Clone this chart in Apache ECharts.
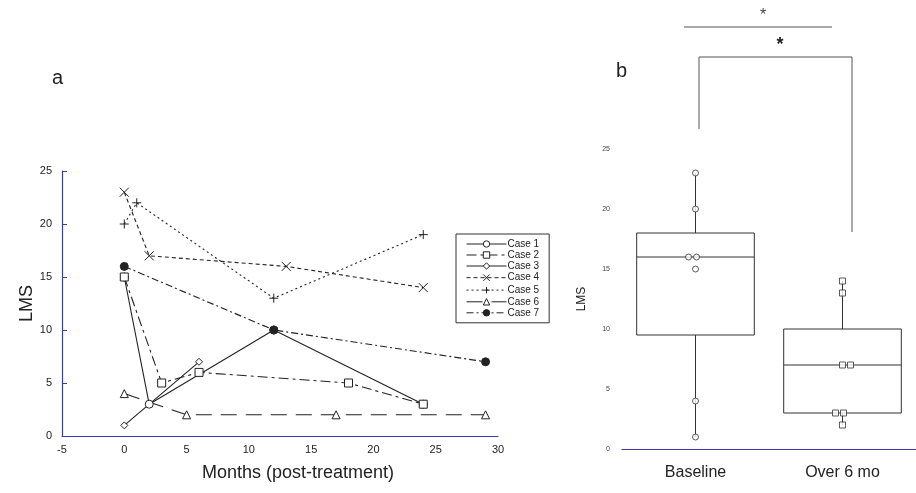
<!DOCTYPE html>
<html>
<head>
<meta charset="utf-8">
<script src="https://cdn.jsdelivr.net/npm/echarts@6/dist/echarts.min.js"></script>
<style>
  html, body { margin: 0; padding: 0; background: #fff; }
  #chart { width: 916px; height: 493px; }
</style>
</head>
<body>
<div id="chart"></div>
<script>
// panel a: LMS over time per case, [month, LMS]
const case1 = [[0, 15], [2, 3], [12, 10], [24, 3]];
const case2 = [[0, 15], [3, 5], [6, 6], [18, 5], [24, 3]];
const case3 = [[0, 1], [6, 7]];
const case4 = [[0, 23], [2, 17], [13, 16], [24, 14]];
const case5 = [[0, 20], [1, 22], [12, 13], [24, 19]];
const case6 = [[0, 4], [5, 2], [17, 2], [29, 2]];
const case7 = [[0, 16], [12, 10], [29, 7]];
const caseNames = ["Case 1", "Case 2", "Case 3", "Case 4", "Case 5", "Case 6", "Case 7"];

// panel b: baseline vs over 6 months
const groups = ["Baseline", "Over 6 mo"];
const baselineValues = [23, 20, 16, 16, 15, 4, 1];
const over6Values = [14, 13, 7, 7, 3, 3, 2];
// [min, Q1, median, Q3, max]
const boxStats = [[1, 9.5, 16, 18, 23], [2, 3, 7, 10, 14]];

const axisBlue = "#3b3bb0";
const ink = "#222";

// little horizontal shifts so the duplicate points sit side by side
const baselineJitter = [0, 0, -7, 1, 0, 0, 0];
const over6Jitter = [0, 0, 0, 8, -7, 1, 0];

const crossPath = "path://M0,0L10,10M10,0L0,10";
const plusPath = "path://M5,0L5,10M0,5L10,5";

function caseSeries(name, data, symbol, dash, fill, size) {
  return {
    name: name,
    type: "line",
    xAxisIndex: 0,
    yAxisIndex: 0,
    data: data,
    symbol: symbol,
    symbolSize: size || 8,
    showSymbol: true,
    z: name === "Case 7" ? 5 : 3,
    lineStyle: { color: ink, width: 1.1, type: dash },
    itemStyle: { color: fill, borderColor: ink, borderWidth: 1 },
    emphasis: { disabled: true },
    animation: false
  };
}

var myChart = echarts.init(document.getElementById("chart"));

var option = {
  animation: false,
  textStyle: { fontFamily: "Liberation Sans" },
  grid: [
    { left: 62, top: 171, width: 436, height: 265 },
    { left: 622, top: 149, width: 302, height: 300 }
  ],
  legend: {
    orient: "vertical",
    left: 456,
    top: 234,
    data: caseNames,
    itemWidth: 40,
    itemHeight: 8,
    itemGap: 1,
    padding: [5, 10, 5, 10],
    borderColor: "#333",
    borderWidth: 1,
    lineStyle: { width: 1 },
    itemStyle: { borderWidth: 1 },
    textStyle: { fontSize: 10, lineHeight: 9, color: ink, padding: [0, 0, 0, -4] },
    selectedMode: false
  },
  xAxis: [
    {
      type: "value",
      gridIndex: 0,
      min: -5,
      max: 30,
      interval: 5,
      splitLine: { show: false },
      axisLine: { onZero: false, lineStyle: { color: axisBlue, width: 1.2 } },
      axisTick: { show: false },
      axisLabel: { color: ink, fontSize: 11, margin: 8 }
    },
    {
      type: "category",
      gridIndex: 1,
      data: groups,
      axisLine: { onZero: false, lineStyle: { color: axisBlue, width: 1.2 } },
      axisTick: { show: false },
      axisLabel: { color: ink, fontSize: 16, margin: 16 }
    }
  ],
  yAxis: [
    {
      type: "value",
      gridIndex: 0,
      min: 0,
      max: 25,
      interval: 5,
      name: "LMS",
      nameLocation: "middle",
      nameGap: 24,
      nameTextStyle: { fontSize: 18, color: ink },
      splitLine: { show: false },
      axisLine: { onZero: false, lineStyle: { color: axisBlue, width: 1.2 } },
      axisTick: { inside: true, length: 5, lineStyle: { color: axisBlue } },
      axisLabel: { color: ink, fontSize: 11, margin: 10 }
    },
    {
      type: "value",
      gridIndex: 1,
      min: 0,
      max: 25,
      interval: 5,
      name: "LMS",
      nameLocation: "middle",
      nameGap: 34,
      nameTextStyle: { fontSize: 12, color: ink },
      splitLine: { show: false },
      axisLine: { onZero: false, lineStyle: { color: axisBlue, width: 1.2 } },
      axisTick: { inside: true, length: 4, lineStyle: { color: axisBlue } },
      axisLabel: { color: "#444", fontSize: 7, margin: 12 }
    }
  ],
  series: [
    caseSeries("Case 1", case1, "circle", "solid", "#fff"),
    caseSeries("Case 2", case2, "rect", [10, 4, 3, 4], "#fff"),
    caseSeries("Case 3", case3, "diamond", "solid", "#fff", 7),
    caseSeries("Case 4", case4, crossPath, [4, 3], "none", 9),
    caseSeries("Case 5", case5, plusPath, [2, 3], "none", 9),
    caseSeries("Case 6", case6, "triangle", [16, 9], "#fff"),
    caseSeries("Case 7", case7, "circle", [7, 3, 2, 3], ink),
    {
      type: "custom",
      xAxisIndex: 1,
      yAxisIndex: 1,
      data: boxStats.map((s, i) => [i].concat(s)),
      encode: { x: 0, y: [1, 2, 3, 4, 5] },
      renderItem: function (params, api) {
        const half = api.size([1, 0])[0] * 0.4;
        const pMin = api.coord([api.value(0), api.value(1)]);
        const pQ1 = api.coord([api.value(0), api.value(2)]);
        const pMed = api.coord([api.value(0), api.value(3)]);
        const pQ3 = api.coord([api.value(0), api.value(4)]);
        const pMax = api.coord([api.value(0), api.value(5)]);
        const cx = pMed[0];
        const st = { stroke: "#333", lineWidth: 1, fill: null };
        return {
          type: "group",
          children: [
            { type: "line", shape: { x1: cx, y1: pMin[1], x2: cx, y2: pQ1[1] }, style: st },
            { type: "line", shape: { x1: cx, y1: pQ3[1], x2: cx, y2: pMax[1] }, style: st },
            { type: "rect", shape: { x: cx - half, y: pQ3[1], width: half * 2, height: pQ1[1] - pQ3[1] }, style: { stroke: "#333", lineWidth: 1, fill: "#fff" } },
            { type: "line", shape: { x1: cx - half, y1: pMed[1], x2: cx + half, y2: pMed[1] }, style: st }
          ]
        };
      },
      z: 2
    },
    {
      type: "scatter",
      xAxisIndex: 1,
      yAxisIndex: 1,
      symbol: "circle",
      symbolSize: 6,
      itemStyle: { color: "#fff", borderColor: "#333", borderWidth: 1 },
      data: baselineValues.map((v, i) => ({ value: [0, v], symbolOffset: [baselineJitter[i], 0] })),
      z: 4
    },
    {
      type: "scatter",
      xAxisIndex: 1,
      yAxisIndex: 1,
      symbol: "rect",
      symbolSize: 6,
      itemStyle: { color: "#fff", borderColor: "#333", borderWidth: 1 },
      data: over6Values.map((v, i) => ({ value: [1, v], symbolOffset: [over6Jitter[i], 0] })),
      z: 4
    }
  ],
  graphic: [
    { type: "text", left: 52, top: 68, style: { text: "a", fontSize: 20, fill: ink, fontFamily: "Liberation Sans" } },
    { type: "text", left: 616, top: 61, style: { text: "b", fontSize: 20, fill: ink, fontFamily: "Liberation Sans" } },
    { type: "text", x: 298, y: 473, style: { text: "Months (post-treatment)", fontSize: 18, fill: ink, align: "center", verticalAlign: "middle", fontFamily: "Liberation Sans" } },
    // significance brackets
    { type: "line", shape: { x1: 684, y1: 27, x2: 832, y2: 27 }, style: { stroke: "#555", lineWidth: 1 } },
    { type: "text", x: 763, y: 16, style: { text: "*", fontSize: 16, fill: "#444", align: "center", verticalAlign: "middle", fontFamily: "Liberation Sans" } },
    { type: "polyline", shape: { points: [[699, 129], [699, 57], [852, 57], [852, 232]] }, style: { stroke: "#555", lineWidth: 1, fill: null } },
    { type: "text", x: 780, y: 45, style: { text: "*", fontSize: 18, fontWeight: "bold", fill: "#222", align: "center", verticalAlign: "middle", fontFamily: "Liberation Sans" } }
  ]
};

myChart.setOption(option);
</script>
</body>
</html>
